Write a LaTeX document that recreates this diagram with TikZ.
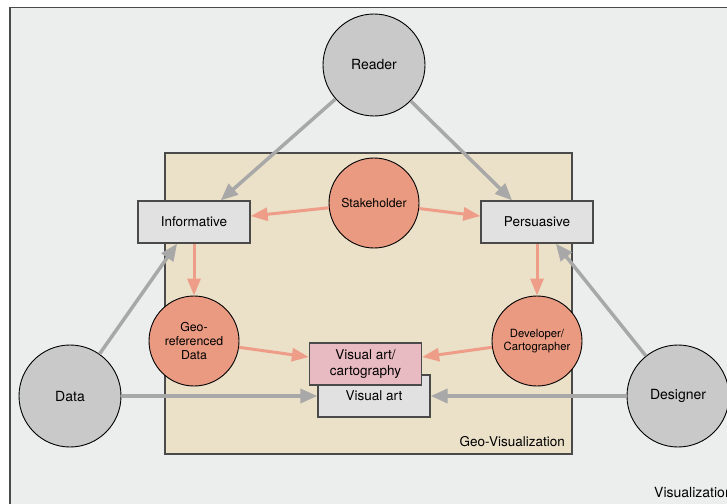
\documentclass[tikz,border=0pt]{standalone}
\usepackage{fontspec}
\setmainfont{TeX Gyre Heros}
\usepackage{xcolor}
\usepackage{tikz}
\usetikzlibrary{positioning, arrows.meta}

\definecolor{paper}{HTML}{ECEEED}
\definecolor{sand}{HTML}{EBE0C8}
\definecolor{frameline}{HTML}{4A4A4A}
\definecolor{actorgray}{HTML}{C8C9C8}
\definecolor{rolered}{HTML}{E99A80}
\definecolor{boxgray}{HTML}{E1E1E1}
\definecolor{artpink}{HTML}{E8BAC1}
\definecolor{feedgray}{HTML}{A8A8A8}
\definecolor{flowred}{HTML}{EE9D88}

\begin{document}
\begin{tikzpicture}[x=1pt, y=-1pt, on grid,
	actor/.style={circle, draw, line width=0.9pt, fill=actorgray, minimum size=102pt, inner sep=0pt, font=\fontsize{14}{16}\selectfont},
	role/.style={circle, draw, line width=0.9pt, fill=rolered, minimum size=90pt, inner sep=0pt, align=center, font=\fontsize{12.3}{14}\selectfont},
	genre/.style={rectangle, draw=frameline, line width=1.3pt, fill=boxgray, minimum width=112pt, minimum height=42pt, inner sep=0pt, align=center, font=\fontsize{13.5}{15.7}\selectfont},
	feed/.style={draw=feedgray, line width=3.5pt, -{Triangle[length=17pt,width=14pt]}},
	flow/.style={draw=flowred, line width=3pt, -{Triangle[length=17pt,width=13pt]}}]
			\useasboundingbox (0,0) rectangle (727,503);
			% frames
			\draw[fill=paper, draw=frameline, line width=1.3pt] (10,7.5) rectangle (800,560);
			\draw[fill=sand, draw=frameline, line width=1.3pt] (165,153) rectangle (572,454);
			\node[anchor=base east, inner sep=0pt, font=\fontsize{13.5}{16}\selectfont] (geolabel) at (565,446) {Geo-Visualization};
			\node[anchor=base west, inner sep=0pt, font=\fontsize{14}{16}\selectfont] (vislabel) at (654,497) {Visualization};
			% nodes
			\node[actor] (reader) at (374,65) {Reader};
			\node[role, below = 138pt of reader] (stake) {Stakeholder};
			\node[genre, below left = 19pt and 180pt of stake] (info) {Informative};
			\node[genre, below right = 19pt and 163pt of stake] (pers) {Persuasive};
			\node[role, below = 119pt of info] (geo) {Geo-\\referenced\\Data};
			\node[role, below = 119pt of pers, font=\fontsize{11.3}{13.3}\selectfont] (dev) {Developer/\\Cartographer};
			\node[genre, below = 193pt of stake] (vis) {Visual art};
			\node[genre, fill=artpink, below left = 161pt and 8.5pt of stake] (art) {Visual art/\\cartography};
			\node[actor, left = 304pt of vis] (data) {Data};
			\node[actor, right = 304pt of vis] (design) {Designer};
			% connectors
			\draw (reader) edge[feed] (info.39);
			\draw (reader) edge[feed] (pers.139);
			\draw (data) edge[feed] (info.232);
			\draw (design) edge[feed] (pers.311);
			\draw (data) edge[feed] (vis);
			\draw (design) edge[feed] (vis);
			\draw (stake) edge[flow] (info.6);
			\draw (stake) edge[flow] (pers.174);
			\draw (info) edge[flow] (geo);
			\draw (pers) edge[flow] (dev);
			\draw (geo) edge[flow] (art.173);
			\draw (dev) edge[flow] (art.7);
		\end{tikzpicture}
\end{document}
